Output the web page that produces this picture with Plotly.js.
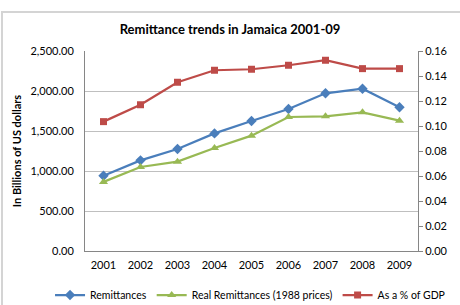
<!DOCTYPE html>
<html>
<head>
<meta charset="utf-8">
<script src="https://cdn.plot.ly/plotly-3.0.1.min.js"></script>
<style>
  html, body { margin: 0; padding: 0; background: #fff; }
  #wrap { position: relative; width: 460px; height: 305px; overflow: hidden; }
  #chart { position: absolute; left: 0; top: 0; width: 460px; height: 305px; }
  #frame { position: absolute; left: 1px; top: 11px; width: 470px; height: 310px;
           border-left: 2px solid #d4d4d4; border-top: 2px solid #d4d4d4; pointer-events: none; }
</style>
</head>
<body>
<div id="wrap">
  <div id="chart"></div>
  <div id="frame"></div>
</div>
<script>
// Remittances to Jamaica, 2001-2009
const years = ['2001', '2002', '2003', '2004', '2005', '2006', '2007', '2008', '2009'];
const remittances = [940, 1133, 1275, 1470, 1625, 1775, 1971, 2029, 1796];
const realRemittances = [864, 1050, 1117, 1287, 1442, 1675, 1683, 1733, 1629];
const shareOfGdp = [0.1035, 0.117, 0.135, 0.1446, 0.1454, 0.1486, 0.1526, 0.1459, 0.1459];

const FONT = 'Lato, "Open Sans", sans-serif';

const traces = [
  {
    x: years, y: remittances, name: 'Remittances', type: 'scatter', mode: 'lines+markers',
    line: { color: '#4a7ebb', width: 2.25 },
    marker: { symbol: 'diamond', size: 8, color: '#4a7ebb' }
  },
  {
    x: years, y: realRemittances, name: 'Real Remittances (1988 prices)', type: 'scatter', mode: 'lines+markers',
    line: { color: '#98b954', width: 2.25 },
    marker: { symbol: 'triangle-up', size: 8, color: '#98b954' }
  },
  {
    x: years, y: shareOfGdp, name: 'As a % of GDP', type: 'scatter', mode: 'lines+markers',
    yaxis: 'y2',
    line: { color: '#be4b48', width: 2.25 },
    marker: { symbol: 'square', size: 7, color: '#be4b48' }
  }
];

const layout = {
  width: 460, height: 305,
  margin: { l: 85, r: 42, t: 51, b: 54, autoexpand: false },
  paper_bgcolor: '#ffffff', plot_bgcolor: '#ffffff',
  font: { family: FONT, size: 11, color: '#000' },
  showlegend: true,
  title: {
    text: '<b>Remittance trends in Jamaica 2001-09</b>',
    font: { family: FONT, size: 13, color: '#000' },
    x: 0.5, xref: 'container', xanchor: 'center',
    y: 1 - 29 / 305, yref: 'container', yanchor: 'middle'
  },
  xaxis: {
    type: 'category', range: [-0.5, 8.5], fixedrange: true,
    showline: true, linecolor: '#868686', linewidth: 1,
    showgrid: false, ticks: '', tickfont: { family: FONT, size: 11 },
    ticklabelstandoff: 4
  },
  yaxis: {
    range: [0, 2500], dtick: 500, tickformat: ',.2f',
    showline: true, linecolor: '#868686', linewidth: 1,
    showgrid: true, gridcolor: '#bfbfbf', gridwidth: 1,
    zeroline: false, ticks: '', ticklabelstandoff: 8,
    tickfont: { family: FONT, size: 11 },
    title: { text: '<b>In Billions of US dollars</b>', font: { family: FONT, size: 11 }, standoff: 6 }
  },
  yaxis2: {
    overlaying: 'y', side: 'right', range: [0, 0.16], dtick: 0.02, tickformat: '.2f',
    showline: true, linecolor: '#868686', linewidth: 1,
    showgrid: false, zeroline: false,
    ticks: 'outside', ticklen: 4, tickcolor: '#868686',
    tickfont: { family: FONT, size: 11 }
  },
  legend: {
    orientation: 'h', x: -0.105, xref: 'paper', xanchor: 'left',
    y: -0.22, yref: 'paper', yanchor: 'middle',
    font: { family: FONT, size: 10.5 }, itemwidth: 30, tracegroupgap: 0,
    bgcolor: 'rgba(0,0,0,0)'
  }
};

Plotly.newPlot('chart', traces, layout, { staticPlot: true, displayModeBar: false });
</script>
</body>
</html>
